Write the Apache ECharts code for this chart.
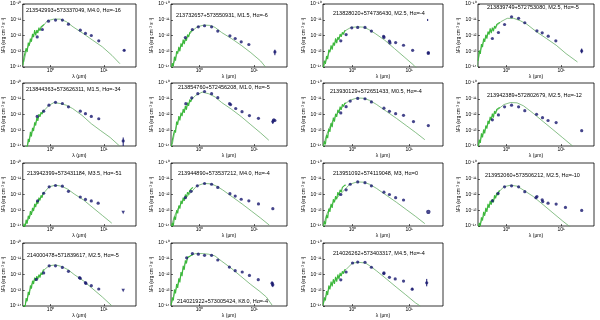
<!DOCTYPE html>
<html><head><meta charset="utf-8">
<script src="https://cdn.jsdelivr.net/npm/echarts@6/dist/echarts.min.js"></script>
<style>html,body{margin:0;padding:0;background:#fff}#c{width:600px;height:320px}</style>
</head><body><div id="c"></div><script>
// ---------------- data ----------------
const labels = [
 "213542993+573337049, M4.0, H\u03b1=-16",
 "213732657+573550931, M1.5, H\u03b1=-6",
 "213828020+574736430, M2.5, H\u03b1=-4",
 "213839749+572753080, M2.5, H\u03b1=-5",
 "213844363+573626311, M1.5, H\u03b1=-34",
 "213854760+572456208, M1.0, H\u03b1=-5",
 "213930129+572651433, M0.5, H\u03b1=-4",
 "213942389+572802679, M2.5, H\u03b1=-12",
 "213942399+573431184, M3.5, H\u03b1=-51",
 "213944890+573537212, M4.0, H\u03b1=-4",
 "213951092+574119048, M3, H\u03b1=0",
 "213952060+573506212, M2.5, H\u03b1=-10",
 "214000478+571839617, M2.5, H\u03b1=-5",
 "214021922+573005424, K8.0, H\u03b1=-4",
 "214026262+573403317, M4.5, H\u03b1=-4"
];
// photometry: wavelength (micron) and log10(lambda F_lambda)
const photLam = [
 [0.56,0.70,0.91,1.235,1.662,2.159,3.6,4.5,5.8,8.0,24],
 [0.55,0.74,0.95,1.235,1.662,2.159,3.6,4.5,5.8,8.0,24],
 [0.62,0.77,0.97,1.235,1.662,2.159,3.55,3.6,4.5,4.6,5.8,8.0,11.6,22,22],
 [0.55,0.71,0.92,1.235,1.662,2.159,3.6,4.5,5.8,8.0,23.8],
 [0.56,0.74,0.93,1.235,1.662,2.159,3.6,4.5,5.8,8.0,23],
 [0.56,0.72,0.93,1.235,1.662,2.159,3.55,3.7,4.6,6.0,8.2,12,22,23,24],
 [0.62,0.77,0.91,1.235,1.662,2.159,3.6,4.5,5.8,8.0,12,22],
 [0.55,0.71,0.92,1.235,1.662,2.159,3.55,4.56,5.76,8.1,23.8],
 [0.57,0.74,0.94,1.235,1.662,2.159,3.6,4.5,5.8,7.8],
 [0.55,0.70,0.91,1.235,1.662,2.159,3.6,4.5,5.8,8.0,12,22],
 [0.62,0.77,0.91,1.235,1.662,2.159,3.6,4.5,5.8,8.0],
 [0.55,0.70,0.92,1.235,1.662,2.159,3.46,3.6,4.5,4.6,5.76,8.1,12,23.8],
 [0.54,0.74,0.94,1.235,1.662,2.159,3.48,3.6,4.5,4.6,5.8,8.0],
 [0.58,0.74,0.95,1.235,1.662,2.159,3.52,4.5,6.05,8.2,11.9,21.3,22],
 [0.62,0.77,1.0,1.235,1.662,2.159,3.58,3.6,4.5,5.7,8.0,11.4,20.6]
];
const photLogF = [
 [-12.09,-11.62,-11.09,-11.02,-11.02,-11.28,-11.66,-11.87,-12.0,-12.34,-12.94],
 [-12.13,-11.62,-11.45,-11.38,-11.45,-11.72,-12.02,-12.19,-12.40,-12.57,-13.04],
 [-12.34,-11.94,-11.51,-11.49,-11.49,-11.72,-12.05,-12.12,-12.36,-12.47,-12.45,-12.62,-12.94,-13.08,-13.14],
 [-12.19,-11.81,-11.30,-10.81,-10.91,-11.19,-11.70,-11.83,-12.04,-12.34,-12.98],
 [-12.12,-11.79,-11.41,-11.23,-11.30,-11.51,-11.79,-11.95,-12.12,-12.27,-13.68],
 [-11.31,-10.95,-10.68,-10.54,-10.68,-10.93,-11.31,-11.37,-11.62,-11.82,-12.07,-12.24,-12.45,-12.34,-12.38],
 [-11.9,-11.5,-11.15,-10.98,-11.0,-11.2,-11.6,-11.8,-11.95,-12.05,-12.45,-12.7],
 [-12.34,-12.03,-11.51,-11.41,-11.51,-11.76,-11.99,-12.20,-12.38,-12.51,-13.03],
 [-12.41,-11.92,-11.51,-11.43,-11.47,-11.80,-12.16,-12.31,-12.41,-12.55],
 [-12.2,-11.8,-11.45,-11.3,-11.35,-11.55,-11.95,-12.1,-12.3,-12.4,-12.6,-12.9],
 [-12.0,-11.7,-11.35,-11.2,-11.25,-11.45,-11.85,-12.0,-12.2,-12.35],
 [-12.40,-11.93,-11.51,-11.45,-11.51,-11.82,-12.20,-12.13,-12.34,-12.45,-12.55,-12.61,-12.82,-13.01],
 [-12.31,-11.90,-11.45,-11.45,-11.55,-11.80,-12.20,-12.24,-12.51,-12.57,-12.71,-12.92],
 [-10.94,-10.67,-10.71,-10.78,-10.78,-11.08,-11.53,-11.76,-11.84,-12.06,-12.33,-12.55,-12.65],
 [-12.34,-11.84,-11.27,-11.21,-11.23,-11.54,-11.94,-11.90,-12.18,-12.28,-12.42,-12.93,-12.53]
];
// error bars: [panel, lambda, log lower, log upper]
const errBars = [
 [0,24,-12.99,-12.89],[1,24,-13.25,-12.9],[2,21.4,-11.08,-10.95],[3,23.8,-13.13,-12.83],
 [4,23,-14.0,-13.46],[5,22,-12.6,-12.3],[13,21.3,-12.75,-12.45],[13,22,-12.8,-12.5],
 [14,20.6,-12.75,-12.28],[14,11.4,-13.0,-12.85]
];
// upper limits: [panel, lambda, log flux]
const upperLimits = [[8,23,-13.14],[12,23,-13.02]];
// open-symbol points: [panel, lambda, log flux]
const openPoints = [[10,22,-13.1]];
// photospheric model curve: log10(lambda) and log10(lambda F_lambda)
const modelLogLam = [
 [-0.503,-0.455,-0.394,-0.333,-0.273,-0.18,-0.06,0.06,0.18,0.30,0.42,0.61,0.79,0.97,1.15,1.30],
 [-0.488,-0.40,-0.31,-0.22,-0.131,-0.042,0.077,0.196,0.286,0.405,0.583,0.762,0.94,1.119,1.208],
 [-0.514,-0.457,-0.4,-0.343,-0.286,-0.229,-0.171,-0.114,-0.029,0.086,0.2,0.286,0.4,0.571,0.743,0.914,1.086,1.143],
 [-0.539,-0.497,-0.437,-0.377,-0.317,-0.228,-0.108,0.012,0.132,0.251,0.371,0.551,0.731,0.910,1.090,1.299],
 [-0.441,-0.382,-0.324,-0.265,-0.206,-0.118,-0.029,0.059,0.176,0.294,0.412,0.588,0.765,0.941,1.118,1.294],
 [-0.5,-0.458,-0.399,-0.339,-0.28,-0.22,-0.161,-0.071,0.048,0.167,0.286,0.405,0.583,0.762,0.94,1.119,1.268],
 [-0.52,-0.45,-0.38,-0.3,-0.22,-0.14,-0.05,0.08,0.2,0.3,0.42,0.6,0.78,0.95,1.12,1.28],
 [-0.515,-0.467,-0.407,-0.347,-0.287,-0.228,-0.138,-0.048,0.072,0.192,0.311,0.491,0.671,0.850,1.030,1.210],
 [-0.471,-0.412,-0.353,-0.294,-0.235,-0.176,-0.118,-0.029,0.088,0.206,0.324,0.441,0.618,0.794,0.971,1.147],
 [-0.52,-0.45,-0.38,-0.3,-0.22,-0.14,-0.05,0.08,0.2,0.3,0.42,0.6,0.78,0.95,1.12,1.28],
 [-0.52,-0.45,-0.38,-0.3,-0.22,-0.14,-0.05,0.08,0.2,0.3,0.42,0.6,0.78,0.95,1.12,1.28],
 [-0.497,-0.437,-0.377,-0.317,-0.257,-0.198,-0.138,-0.048,0.072,0.192,0.311,0.491,0.671,0.850,1.030,1.180],
 [-0.471,-0.412,-0.353,-0.294,-0.235,-0.176,-0.118,-0.029,0.088,0.206,0.324,0.441,0.618,0.794,0.971,1.147],
 [-0.512,-0.453,-0.394,-0.335,-0.276,-0.218,-0.159,-0.071,0.047,0.165,0.282,0.4,0.576,0.753,0.929,1.106,1.224,1.33],
 [-0.526,-0.486,-0.429,-0.371,-0.314,-0.257,-0.2,-0.114,0,0.114,0.229,0.314,0.429,0.6,0.771,0.943,1.114,1.2]
];
const modelLogF = [
 [-13.68,-12.94,-12.51,-11.98,-11.77,-11.55,-11.06,-10.96,-10.96,-11.13,-11.45,-11.87,-12.30,-12.72,-13.26,-13.79],
 [-13.89,-13.04,-12.51,-12.09,-11.70,-11.45,-11.34,-11.36,-11.49,-11.81,-12.19,-12.62,-13.09,-13.62,-14.0],
 [-14,-13.47,-12.94,-12.62,-12.30,-12.09,-11.87,-11.66,-11.49,-11.45,-11.47,-11.62,-11.87,-12.30,-12.83,-13.36,-13.89,-14.1],
 [-14,-13.15,-12.51,-12.09,-11.77,-11.55,-11.13,-10.91,-10.91,-11.06,-11.28,-11.77,-12.19,-12.62,-13.15,-13.68],
 [-14,-13.35,-12.92,-12.38,-12.05,-11.73,-11.41,-11.25,-11.30,-11.41,-11.62,-12.05,-12.59,-13.03,-13.46,-14],
 [-13.9,-13.17,-12.45,-12.03,-11.72,-11.41,-11.10,-10.79,-10.58,-10.68,-10.89,-11.24,-11.66,-12.13,-12.65,-13.17,-13.63],
 [-14,-13.2,-12.6,-12.1,-11.7,-11.35,-11.1,-10.95,-10.97,-11.1,-11.35,-11.8,-12.25,-12.7,-13.15,-13.6],
 [-14,-13.48,-13.07,-12.65,-12.24,-11.93,-11.62,-11.37,-11.24,-11.26,-11.45,-11.93,-12.45,-12.96,-13.48,-14],
 [-13.92,-13.53,-13.14,-12.75,-12.45,-12.16,-11.86,-11.51,-11.41,-11.47,-11.67,-11.96,-12.35,-12.84,-13.33,-13.82],
 [-14,-13.3,-12.8,-12.4,-12.1,-11.8,-11.45,-11.3,-11.32,-11.45,-11.7,-12.15,-12.6,-13.05,-13.5,-13.95],
 [-14,-13.2,-12.7,-12.3,-12.0,-11.7,-11.35,-11.2,-11.22,-11.35,-11.6,-12.05,-12.5,-12.95,-13.4,-13.85],
 [-14,-13.48,-13.07,-12.65,-12.45,-12.13,-11.82,-11.51,-11.41,-11.47,-11.72,-12.13,-12.65,-13.17,-13.69,-14.1],
 [-13.84,-13.22,-12.61,-12.31,-12.16,-12.0,-11.69,-11.45,-11.39,-11.49,-11.69,-12.0,-12.41,-12.92,-13.43,-13.98],
 [-13.84,-13.12,-12.61,-12.0,-11.39,-10.98,-10.78,-10.67,-10.67,-10.71,-10.82,-11.14,-11.59,-12.10,-12.61,-13.08,-13.43,-13.95],
 [-14,-13.49,-12.99,-12.59,-12.38,-12.18,-11.98,-11.68,-11.27,-11.23,-11.27,-11.47,-11.78,-12.28,-12.79,-13.29,-13.80,-14]
];
// optical spectrum (jagged green): shared log10(lambda) grid, per panel log flux
const specLogLam = [-0.52,-0.50,-0.48,-0.46,-0.44,-0.42,-0.40,-0.38,-0.36,-0.34,-0.32,-0.30,-0.28,-0.26,-0.24,-0.22,-0.20,-0.18,-0.16,-0.14,-0.12];
const specLogF = [
 [-13.9,-13.35,-13.45,-12.8,-13.05,-12.45,-12.65,-12.2,-12.4,-11.9,-12.1,-11.65,-12.0,-11.65,-11.85,-11.5,-11.7,-11.45,-11.57,-11.34,-11.3],
 [-14.2,-13.75,-13.95,-13.35,-13.6,-13.0,-13.15,-12.72,-13.0,-12.5,-12.72,-12.26,-12.55,-12.18,-12.33,-11.94,-12.1,-11.82,-11.93,-11.69,-11.66],
 [-14.05,-13.6,-13.8,-13.3,-13.5,-12.9,-13.05,-12.63,-12.9,-12.45,-12.64,-12.18,-12.48,-12.1,-12.28,-11.91,-12.08,-11.8,-11.93,-11.7,-11.68],
 [-13.6,-12.95,-13.17,-12.55,-12.74,-12.2,-12.4,-11.95,-12.2,-11.75,-11.94,-11.55,-11.85,-11.5,-11.73,-11.4,-11.55,-11.3,-11.4,-11.2,-11.17],
 [-15,-14.5,-14.6,-14.0,-14.2,-13.55,-13.75,-13.1,-13.4,-12.85,-13.05,-12.5,-12.7,-12.2,-12.4,-11.98,-12.15,-11.85,-11.98,-11.78,-11.74],
 [-14.2,-13.65,-13.75,-13.0,-13.15,-12.45,-12.65,-12.1,-12.38,-11.88,-12.1,-11.65,-11.9,-11.45,-11.7,-11.25,-11.45,-11.05,-11.2,-10.98,-10.96],
 [-14.2,-13.7,-13.9,-13.3,-13.5,-12.9,-13.1,-12.55,-12.8,-12.2,-12.45,-11.95,-12.15,-11.7,-11.9,-11.5,-11.7,-11.35,-11.5,-11.3,-11.25],
 [-14.05,-13.6,-13.8,-13.2,-13.45,-12.95,-13.2,-12.7,-12.9,-12.4,-12.6,-12.15,-12.35,-11.95,-12.2,-11.78,-11.95,-11.68,-11.8,-11.58,-11.57],
 [-14.25,-13.85,-14.1,-13.6,-13.85,-13.35,-13.55,-13.05,-13.3,-12.85,-13.05,-12.6,-12.8,-12.4,-12.6,-12.2,-12.38,-12.05,-12.2,-11.9,-11.87],
 [-14.2,-13.8,-14.0,-13.4,-13.6,-13.0,-13.2,-12.7,-12.9,-12.4,-12.6,-12.2,-12.4,-12.0,-12.2,-11.85,-12.0,-11.75,-11.85,-11.6,-11.55],
 [-14.2,-13.7,-13.9,-13.3,-13.5,-12.9,-13.1,-12.6,-12.85,-12.3,-12.5,-12.1,-12.3,-11.85,-12.05,-11.7,-11.85,-11.55,-11.65,-11.42,-11.4],
 [-14.2,-13.8,-14.0,-13.45,-13.65,-13.1,-13.35,-12.85,-13.1,-12.6,-12.85,-12.4,-12.65,-12.3,-12.5,-12.05,-12.25,-11.9,-12.05,-11.78,-11.76],
 [-14.35,-13.95,-14.1,-13.5,-13.7,-13.1,-13.3,-12.7,-12.9,-12.4,-12.6,-12.2,-12.4,-12.1,-12.3,-12.0,-12.2,-11.88,-12.02,-11.72,-11.7],
 [-13.95,-13.45,-13.65,-12.95,-13.2,-12.6,-12.85,-12.25,-12.5,-11.85,-12.1,-11.45,-11.7,-11.1,-11.3,-10.9,-11.0,-10.85,-10.9,-10.76,-10.73],
 [-13.92,-13.45,-13.65,-13.05,-13.3,-12.7,-12.95,-12.45,-12.75,-12.3,-12.6,-12.15,-12.45,-12.0,-12.3,-11.9,-12.1,-11.8,-11.95,-11.7,-11.7]
];
const xRange = [0.3, 40];
const yRange = [1e-14, 1e-10];
const xTitle = "\u03bb (\u03bcm)";
const yTitle = "\u03bbF\u03bb (erg cm\u207b\u00b2 s\u207b\u00b9)";

// ---------------- layout ----------------
const colLeft = [19, 171, 323, 478], colWidth = [117, 116, 120, 116];
const rowTop = [4, 83, 163, 243], rowHeight = 63;
const labelPos = [[26,7],[176,12],[333,10],[487,4],[26,86],[178,84],[330,88],[487,92],
                  [27,170],[178,170],[333,170],[485,172],[27,252],[177,298],[333,250]];
const C_PT = '#16166e', C_SPEC = '#3cb83c', C_MODEL = '#6aae6a';

const sup = {'-':'\u207b','0':'\u2070','1':'\u00b9','2':'\u00b2','3':'\u00b3','4':'\u2074','5':'\u2075','6':'\u2076','7':'\u2077','8':'\u2078','9':'\u2079'};
function powLabel(v){
  const l = Math.log10(v), e = Math.round(l);
  if (Math.abs(l - e) > 1e-6) return '';
  return '10' + String(e).split('').map(c => sup[c]).join('');
}
const P = v => Math.pow(10, v);

const grids = [], xAxes = [], yAxes = [], series = [], titles = [];
const FONT = 'Liberation Sans';
for (let i = 0; i < labels.length; i++) {
  const r = Math.floor(i / 4), c = i % 4;
  grids.push({left: colLeft[c], top: rowTop[r], width: colWidth[c], height: rowHeight,
              show: true, borderColor: '#000', borderWidth: 0.8, backgroundColor: 'transparent'});
  xAxes.push({type: 'log', logBase: 10, gridIndex: i, min: xRange[0], max: xRange[1],
    name: xTitle, nameLocation: 'middle', nameGap: 7,
    nameTextStyle: {fontSize: 5, fontFamily: FONT, color: '#000'},
    axisLine: {show: false}, splitLine: {show: false},
    axisTick: {show: true, inside: true, length: 2, lineStyle: {color: '#000', width: 0.6}},
    minorTick: {show: false},
    axisLabel: {fontSize: 5, fontFamily: FONT, color: '#000', margin: 1.5, formatter: powLabel,
                showMinLabel: false, showMaxLabel: false}});
  yAxes.push({type: 'log', logBase: 10, gridIndex: i, min: yRange[0], max: yRange[1],
    name: yTitle, nameLocation: 'middle', nameGap: 11, nameRotate: 90,
    nameTextStyle: {fontSize: 4.5, fontFamily: FONT, color: '#000'},
    axisLine: {show: false}, splitLine: {show: false},
    axisTick: {show: true, inside: true, length: 2, lineStyle: {color: '#000', width: 0.6}},
    axisLabel: {fontSize: 5, fontFamily: FONT, color: '#000', margin: 1.5, formatter: powLabel}});
  titles.push({text: labels[i], left: labelPos[i][0], top: labelPos[i][1], padding: 0,
    textStyle: {fontSize: 5.5, fontWeight: 'normal', fontFamily: FONT, color: '#000'}});

  series.push({type: 'line', xAxisIndex: i, yAxisIndex: i, silent: true, showSymbol: false, clip: true,
    lineStyle: {color: C_MODEL, width: 0.8}, z: 2,
    data: modelLogLam[i].map((x, k) => [P(x), P(modelLogF[i][k])])});
  series.push({type: 'line', xAxisIndex: i, yAxisIndex: i, silent: true, showSymbol: false, clip: true,
    lineStyle: {color: C_SPEC, width: 1.1}, z: 3,
    data: specLogLam.map((x, k) => [P(x), P(specLogF[i][k])])});
  series.push({type: 'custom', xAxisIndex: i, yAxisIndex: i, silent: true, z: 4,
    data: errBars.filter(e => e[0] === i).map(e => [e[1], P(e[2]), P(e[3])]),
    encode: {x: 0, y: [1, 2]},
    renderItem: (params, api) => {
      const a = api.coord([api.value(0), api.value(1)]), b = api.coord([api.value(0), api.value(2)]);
      return {type: 'line', shape: {x1: a[0], y1: a[1], x2: b[0], y2: b[1]},
              style: {stroke: C_PT, lineWidth: 1}};
    }});
  series.push({type: 'scatter', xAxisIndex: i, yAxisIndex: i, silent: true, z: 5,
    symbol: 'circle', symbolSize: 3.2, itemStyle: {color: C_PT},
    data: photLam[i].map((x, k) => [x, P(photLogF[i][k])])});
  series.push({type: 'scatter', xAxisIndex: i, yAxisIndex: i, silent: true, z: 5,
    symbol: 'triangle', symbolRotate: 180, symbolSize: 3.5, itemStyle: {color: C_PT},
    data: upperLimits.filter(u => u[0] === i).map(u => [u[1], P(u[2])])});
  series.push({type: 'scatter', xAxisIndex: i, yAxisIndex: i, silent: true, z: 5,
    symbol: 'emptyCircle', symbolSize: 2.4, itemStyle: {color: C_PT, borderWidth: 0.5},
    data: openPoints.filter(u => u[0] === i).map(u => [u[1], P(u[2])])});
}

const chart = echarts.init(document.getElementById('c'), null, {renderer: 'canvas'});
chart.setOption({animation: false, backgroundColor: '#fff', title: titles,
  grid: grids, xAxis: xAxes, yAxis: yAxes, series: series});
</script></body></html>
